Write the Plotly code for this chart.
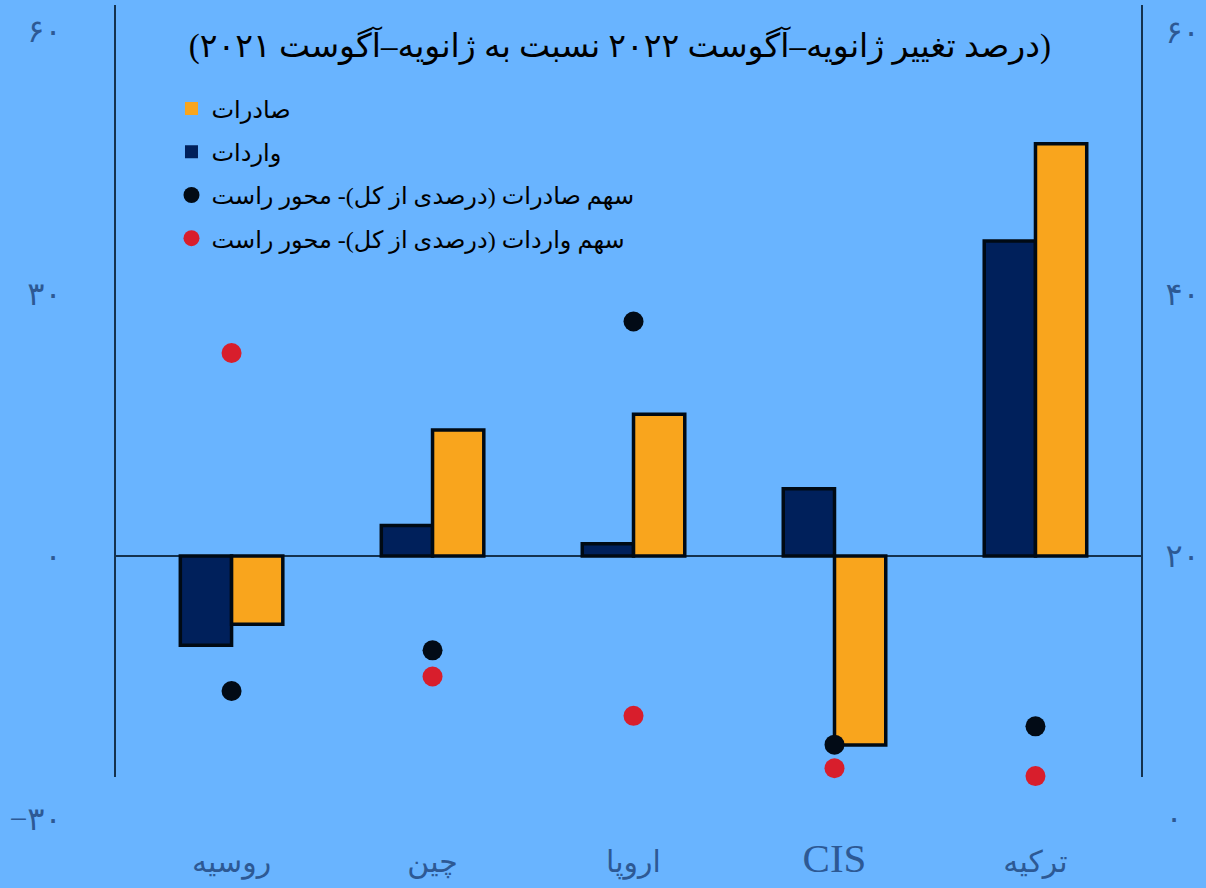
import plotly.graph_objects as go

# ---- data ----
categories = ["روسیه", "چین", "اروپا", "CIS", "ترکیه"]
cat_labels = ["روسیه", "چین", "اروپا", '<span style="font-family:Liberation Serif;font-size:41px">CIS</span>', "ترکیه"]
imports_change = [-10.2, 3.5, 1.4, 7.7, 36.0]
exports_change = [-7.8, 14.4, 16.2, -21.6, 47.1]
export_share = [9.7, 12.8, 37.9, 5.6, 7.0]
import_share = [35.5, 10.8, 7.8, 3.8, 3.2]

left_ticks = [-30, 0, 30, 60]
left_ticktext = ["−۳۰", "۰", "۳۰", "۶۰"]
right_ticks = [0, 20, 40, 60]
right_ticktext = ["۰", "۲۰", "۴۰", "۶۰"]

subtitle = "(درصد تغییر ژانویه–آگوست ۲۰۲۲ نسبت به ژانویه–آگوست ۲۰۲۱)"
name_exports = "صادرات"
name_imports = "واردات"
name_exp_share = "سهم صادرات (درصدی از کل)- محور راست"
name_imp_share = "سهم واردات (درصدی از کل)- محور راست"

# ---- style ----
BG = "#69B4FF"
NAVY = "#00205B"
ORANGE = "#F9A51D"
DOT_BLACK = "#020B16"
DOT_RED = "#D81E2C"
TICK_COLOR = "#2D5994"
AXIS_LINE = "#14324F"
FONT = "Liberation Serif, DejaVu Sans, sans-serif"

W, H = 1206, 888
ML, MR, MT, MB = 115, 64, 5, 68
plot_h = H - MT - MB

xpos = list(range(len(categories)))

fig = go.Figure()

fig.add_trace(go.Bar(x=xpos, y=imports_change, name=name_imports, showlegend=False,
                     marker=dict(color=NAVY, line=dict(color="#000A14", width=3.5))))
fig.add_trace(go.Bar(x=xpos, y=exports_change, name=name_exports, showlegend=False,
                     marker=dict(color=ORANGE, line=dict(color="#000A14", width=3.5))))

fig.add_trace(go.Scatter(x=xpos, y=export_share, yaxis="y2", mode="markers", showlegend=False,
                         marker=dict(color=DOT_BLACK, size=20), cliponaxis=False))
fig.add_trace(go.Scatter(x=xpos, y=import_share, yaxis="y2", mode="markers", showlegend=False,
                         marker=dict(color=DOT_RED, size=20), cliponaxis=False))

# legend entries
for nm, col, sym, sz in [(name_exports, ORANGE, "square", 13), (name_imports, NAVY, "square", 13),
                         (name_exp_share, DOT_BLACK, "circle", 20), (name_imp_share, DOT_RED, "circle", 20)]:
    fig.add_trace(go.Scatter(x=[None], y=[None], mode="markers", name=nm, legendgroup=nm,
                             marker=dict(color=col, symbol=sym, size=sz)))

fig.update_layout(
    width=W, height=H,
    paper_bgcolor=BG, plot_bgcolor=BG,
    margin=dict(l=ML, r=MR, t=MT, b=MB, pad=0),
    font=dict(family=FONT, color="black"),
    barmode="group", bargap=0.49, bargroupgap=0,
    showlegend=True,
    legend=dict(x=0.055, y=0.90, xanchor="left", yanchor="top", bgcolor="rgba(0,0,0,0)",
                font=dict(size=24, color="black"), traceorder="grouped", tracegroupgap=9),
    title=dict(text=subtitle, x=0.514, xanchor="center", y=1 - 45 / H, yanchor="middle",
               font=dict(size=33, color="black")),
    xaxis=dict(range=[-0.58, 4.53], tickvals=xpos, ticktext=cat_labels, showgrid=False,
               zeroline=False, showline=False, ticks="outside", ticklen=15,
               tickcolor="rgba(0,0,0,0)", tickfont=dict(size=30, color=TICK_COLOR)),
    yaxis=dict(range=[-30.17, 62.97], tickvals=left_ticks, ticktext=left_ticktext, showgrid=False,
               zeroline=True, zerolinecolor=AXIS_LINE, zerolinewidth=1.5, showline=False,
               ticks="outside", ticklen=46, tickcolor="rgba(0,0,0,0)",
               tickfont=dict(size=32, color=TICK_COLOR)),
    yaxis2=dict(range=[-0.15, 62.06], overlaying="y", side="right", tickvals=right_ticks,
                ticktext=right_ticktext, showgrid=False, zeroline=False, showline=False,
                ticks="outside", ticklen=16, tickcolor="rgba(0,0,0,0)",
                tickfont=dict(size=32, color=TICK_COLOR)),
    shapes=[
        dict(type="line", xref="paper", yref="paper", x0=0, x1=0, y0=(plot_h - 772) / plot_h, y1=1,
             line=dict(color=AXIS_LINE, width=2)),
        dict(type="line", xref="paper", yref="paper", x0=1, x1=1, y0=(plot_h - 772) / plot_h, y1=1,
             line=dict(color=AXIS_LINE, width=2)),
    ],
)

page_css = ("document.body.style.margin='0';document.body.style.padding='0';"
            "document.body.style.overflow='hidden';document.body.style.background='" + BG + "';")
fig.write_html("out.html", post_script=page_css, config={"displayModeBar": False})
